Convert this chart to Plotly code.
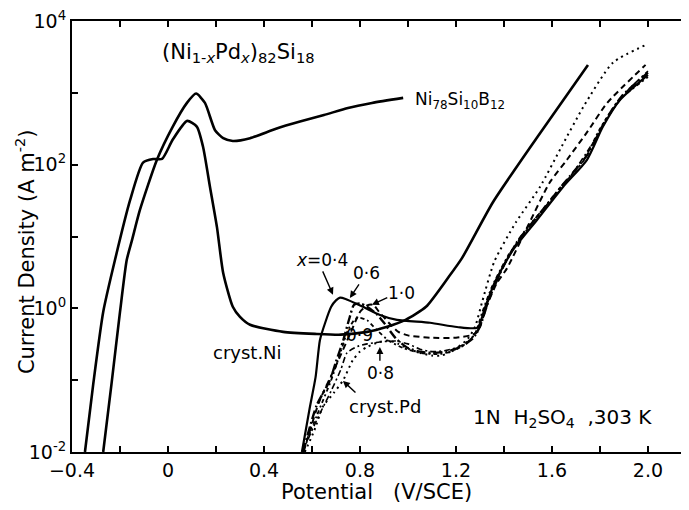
import plotly.graph_objects as go

# ---------------- data (potential in V/SCE, current density in A m^-2) ----------------
ni_cryst_x = [-0.346, -0.311, -0.27, -0.221, -0.158, -0.104, -0.062, -0.025, 0.02, 0.08, 0.12, 0.146,
              0.175, 0.204, 0.23, 0.27, 0.30, 0.342, 0.48, 0.62, 0.72, 0.83, 0.91, 0.99, 1.075, 1.17,
              1.225, 1.354, 1.54, 1.75]
ni_cryst_y = [0.01, 0.091, 0.89, 4.7, 32, 107, 120, 120, 224, 407, 339, 178,
              49, 13.5, 3.1, 1.05, 0.76, 0.59, 0.47, 0.44, 0.43, 0.47, 0.55, 0.69, 1.05, 2.75,
              5.0, 30, 245, 2450]

nisib_x = [-0.27, -0.235, -0.2, -0.172, -0.15, -0.117, -0.046, 0.02, 0.079, 0.117, 0.154, 0.196,
           0.23, 0.27, 0.342, 0.45, 0.55, 0.65, 0.75, 0.85, 0.98]
nisib_y = [0.01, 0.091, 0.89, 4.7, 8.9, 23.4, 117, 339, 724, 977, 724, 302,
           234, 214, 234, 316, 398, 490, 617, 724, 851]

x04_x = [0.558, 0.59, 0.615, 0.633, 0.655, 0.68, 0.70, 0.717, 0.74, 0.8125, 0.883, 0.954, 1.092,
         1.204, 1.29, 1.32, 1.36, 1.4375, 1.5375, 1.646, 1.746, 1.8125, 1.883, 2.0]
x04_y = [0.01, 0.04, 0.11, 0.36, 0.63, 1.05, 1.29, 1.41, 1.35, 1.05, 0.81, 0.69, 0.63,
         0.55, 0.54, 1.0, 2.24, 6.5, 17, 49, 117, 339, 794, 1780]

x06_x = [0.562, 0.62, 0.675, 0.70, 0.73, 0.755, 0.775, 0.80, 0.83, 0.87, 0.90, 0.95, 1.0, 1.05,
         1.10, 1.16, 1.22, 1.27, 1.30, 1.34, 1.40, 1.46, 1.55, 1.65, 1.75, 1.82, 1.89, 2.0]
x06_y = [0.01, 0.045, 0.10, 0.18, 0.355, 0.71, 1.12, 1.17, 1.05, 0.83, 0.63, 0.38, 0.28, 0.25,
         0.24, 0.25, 0.29, 0.38, 0.56, 1.41, 4.0, 8.9, 21, 55, 141, 398, 891, 1910]

x10_x = [0.565, 0.63, 0.70, 0.76, 0.80, 0.83, 0.855, 0.88, 0.92, 0.96, 1.0, 1.092, 1.20, 1.26,
         1.29, 1.33, 1.37, 1.4125, 1.50, 1.59, 1.6625, 1.75, 1.83, 1.99]
x10_y = [0.01, 0.05, 0.16, 0.45, 0.89, 1.10, 1.12, 0.89, 0.63, 0.47, 0.42, 0.39, 0.39, 0.42,
         0.47, 1.12, 2.24, 3.6, 14.1, 56, 117, 295, 724, 2450]

x09_x = [0.56, 0.62, 0.68, 0.72, 0.75, 0.78, 0.80, 0.83, 0.87, 0.92, 0.98, 1.05, 1.12, 1.18,
         1.24, 1.28, 1.31, 1.35, 1.42, 1.52, 1.63, 1.73, 1.80, 1.88, 2.0]
x09_y = [0.01, 0.032, 0.10, 0.25, 0.50, 0.71, 0.74, 0.68, 0.50, 0.355, 0.28, 0.24, 0.23, 0.25,
         0.32, 0.45, 0.89, 2.0, 5.6, 15.8, 46, 112, 316, 794, 1660]

x08_x = [0.56, 0.62, 0.68, 0.72, 0.746, 0.79, 0.83, 0.883, 0.95, 1.0, 1.05, 1.10, 1.16, 1.22,
         1.27, 1.30, 1.34, 1.40, 1.48, 1.58, 1.68, 1.77, 1.85, 1.92, 2.0]
x08_y = [0.01, 0.028, 0.071, 0.14, 0.24, 0.295, 0.32, 0.34, 0.35, 0.32, 0.27, 0.25, 0.26, 0.30,
         0.40, 0.60, 1.41, 4.0, 11.2, 28, 71, 200, 562, 1120, 2000]

pd_cryst_x = [0.57, 0.61, 0.646, 0.69, 0.73, 0.77, 0.80, 0.83, 0.88, 0.92, 0.96, 1.0, 1.05, 1.10,
              1.14, 1.20, 1.25, 1.28, 1.31, 1.36, 1.45, 1.55, 1.64, 1.73, 1.854, 2.0]
pd_cryst_y = [0.01, 0.020, 0.043, 0.066, 0.10, 0.19, 0.25, 0.29, 0.34, 0.355, 0.32, 0.275, 0.24, 0.22,
              0.22, 0.275, 0.38, 0.56, 1.26, 4.5, 15.8, 49, 178, 631, 2630, 4790]

x_tick_vals = [-0.4, -0.2, 0.0, 0.2, 0.4, 0.6, 0.8, 1.0, 1.2, 1.4, 1.6, 1.8, 2.0]
x_tick_text = ["\u22120.4", "", "0", "", "0.4", "", "0.8", "", "1.2", "", "1.6", "", "2.0"]
y_tick_vals = [0.01, 0.1, 1, 10, 100, 1000, 10000]
y_tick_text = ["10<sup>-2</sup>", "", "10<sup>0</sup>", "", "10<sup>2</sup>", "", "10<sup>4</sup>"]

FONT = "DejaVu Sans"

fig = go.Figure()

def add(xs, ys, dash, width):
    fig.add_trace(go.Scatter(x=xs, y=ys, mode="lines",
                             line=dict(color="black", width=width, dash=dash,
                                       shape="spline", smoothing=0.6),
                             showlegend=False, hoverinfo="skip"))

add(ni_cryst_x, ni_cryst_y, "solid", 2.6)
add(nisib_x, nisib_y, "solid", 2.6)
add(pd_cryst_x, pd_cryst_y, "2px,4px", 2)
add(x08_x, x08_y, "6px,3px,2px,3px", 1.6)
add(x09_x, x09_y, "2px,3px,4px,3px", 1.8)
add(x10_x, x10_y, "6px,4px", 2)
add(x06_x, x06_y, "9px,3px,2px,3px", 2.4)
add(x04_x, x04_y, "solid", 2.2)

ann = []
def text(x, ylog, s, size=18, xanchor="center"):
    ann.append(dict(x=x, y=ylog, xref="x", yref="y", text=s, showarrow=False,
                    font=dict(family=FONT, size=size, color="black"), xanchor=xanchor, yanchor="middle"))

def arrow(x0, y0, x1, y1):
    ann.append(dict(x=x1, y=y1, ax=x0, ay=y0, xref="x", yref="y", axref="x", ayref="y",
                    text="", showarrow=True, arrowhead=2, arrowsize=1, arrowwidth=1.4,
                    arrowcolor="black"))

text(0.295, 3.56, "(Ni<sub>1-<i>x</i></sub>Pd<sub><i>x</i></sub>)<sub>82</sub>Si<sub>18</sub>", 21)
text(1.02, 2.90, "Ni<sub>78</sub>Si<sub>10</sub>B<sub>12</sub>", 17, "left")
text(0.333, -0.61, "cryst.Ni", 18)
text(0.642, 0.67, "<i>x</i>=0\u00b74", 17)
arrow(0.642, 0.535, 0.6875, 0.19)
text(0.829, 0.49, "0\u00b76", 17)
arrow(0.80, 0.354, 0.758, 0.145)
text(0.975, 0.21, "1\u00b70", 17)
arrow(0.92, 0.16, 0.85, 0.05)
text(0.80, -0.37, "0\u00b79", 17)
text(0.8875, -0.90, "0\u00b78", 17)
arrow(0.883, -0.75, 0.883, -0.54)
text(0.904, -1.37, "cryst.Pd", 18)
arrow(0.7875, -1.19, 0.729, -1.01)
text(1.642, -1.53, "1N\u00a0\u00a0H<sub>2</sub>SO<sub>4</sub>\u00a0\u00a0,303\u00a0K", 20)

ann.append(dict(x=0.494, y=-0.092, xref="paper", yref="paper", showarrow=False,
                text="Potential\u00a0\u00a0\u00a0(V/SCE)", font=dict(family=FONT, size=21, color="black"),
                xanchor="center", yanchor="middle"))
ann.append(dict(x=-0.076, y=0.464, xref="paper", yref="paper", showarrow=False, textangle=-90,
                text="Current Density (A m<sup>-2</sup>)", font=dict(family=FONT, size=21, color="black"),
                xanchor="center", yanchor="middle"))

# the page body adds an 8 px offset, so the figure is 8 px smaller to fill the 689x510 window
fig.update_layout(
    width=681, height=502,
    margin=dict(l=64, r=0, t=13, b=58, autoexpand=False),
    paper_bgcolor="white", plot_bgcolor="white",
    font=dict(family=FONT, color="black"),
    annotations=ann,
    xaxis=dict(range=[-0.4, 2.171], tickmode="array", tickvals=x_tick_vals, ticktext=x_tick_text,
               showline=True, linewidth=2, linecolor="black", mirror="ticks", automargin=False,
               ticks="inside", ticklen=6, tickwidth=1.5, tickcolor="black", ticklabeloverflow="allow",
               showgrid=False, zeroline=False, tickfont=dict(size=19)),
    yaxis=dict(type="log", range=[-2, 4], tickmode="array", tickvals=y_tick_vals, ticktext=y_tick_text,
               showline=True, linewidth=2, linecolor="black", mirror="ticks", automargin=False,
               ticks="inside", ticklen=6, tickwidth=1.5, tickcolor="black", ticklabeloverflow="allow",
               showgrid=False, zeroline=False, tickfont=dict(size=19)),
)

fig.write_html("out.html")
